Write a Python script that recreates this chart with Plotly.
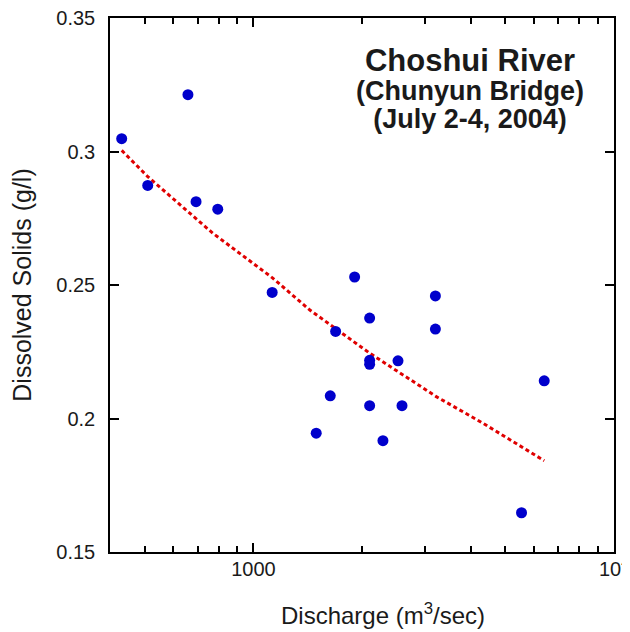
import plotly.graph_objects as go

# Observed samples (discharge m^3/sec, dissolved solids g/l)
discharge = [431, 658, 509, 693, 796, 1127, 1908, 3196, 2100, 1690, 3196,
             2100, 2100, 2517, 6404, 1633, 2100, 2582, 1493, 2286, 5540]
solids = [0.3048, 0.3213, 0.2873, 0.2812, 0.2784, 0.2472, 0.2530, 0.2459,
          0.2376, 0.2326, 0.2335, 0.2218, 0.2203, 0.2216, 0.2141, 0.2085,
          0.2048, 0.2048, 0.1945, 0.1917, 0.1647]

# Fitted trend curve
trend_x = [431, 509, 771, 1131, 1431, 2099, 3214, 4335, 6404]
trend_y = [0.3004, 0.2906, 0.2694, 0.2526, 0.2407, 0.2245, 0.2082, 0.1982, 0.1842]

# Axis ticks
x_tickvals = [1000, 10000]
x_ticktext = ["1000", "10<sup>4</sup>"]
x_minor = [500, 600, 700, 800, 900, 2000, 3000, 4000, 5000, 6000, 7000, 8000, 9000]
y_tickvals = [0.15, 0.2, 0.25, 0.3, 0.35]
y_ticktext = ["0.15", "0.2", "0.25", "0.3", "0.35"]

title_lines = ["Choshui River", "(Chunyun Bridge)", "(July 2-4, 2004)"]

FONT = "Liberation Sans, Arial, Helvetica, sans-serif"
TXT = "#1a1a1a"

fig = go.Figure()
fig.add_trace(go.Scatter(
    x=trend_x, y=trend_y, mode="lines",
    line=dict(color="#e00000", width=3, dash="4px,3px"),
    hoverinfo="skip", showlegend=False,
))
fig.add_trace(go.Scatter(
    x=discharge, y=solids, mode="markers",
    marker=dict(color="#0000cc", size=11),
    showlegend=False,
))

fig.update_xaxes(
    type="log", range=[2.60206, 4], automargin=False,
    tickmode="array", tickvals=x_tickvals, ticktext=x_ticktext,
    ticks="inside", ticklen=9, tickwidth=1.5, tickcolor="black",
    minor=dict(tickmode="array", tickvals=x_minor, ticks="inside",
               ticklen=6, tickwidth=1.5, tickcolor="black", showgrid=False),
    showline=True, linecolor="black", linewidth=1.5, mirror="allticks",
    showgrid=False, zeroline=False,
    tickfont=dict(family=FONT, size=20, color=TXT),
    ticklabelstandoff=-2, ticklabeloverflow="allow",
)
fig.update_yaxes(
    range=[0.15, 0.35], automargin=False,
    tickmode="array", tickvals=y_tickvals, ticktext=y_ticktext,
    ticks="inside", ticklen=9, tickwidth=1.5, tickcolor="black",
    showline=True, linecolor="black", linewidth=1.5, mirror="allticks",
    showgrid=False, zeroline=False,
    tickfont=dict(family=FONT, size=20, color=TXT),
    ticklabelstandoff=9, ticklabeloverflow="allow",
    title=dict(text="Dissolved Solids (g/l)", font=dict(family=FONT, size=25, color=TXT),
               standoff=18),
)

title_text = (
    "<span style='font-size:31px'><b>%s</b></span><br>"
    "<span style='font-size:27px'><b>%s</b></span><br>"
    "<span style='font-size:27px'><b>%s</b></span>"
) % tuple(title_lines)

annotations = [
    dict(text=title_text, x=0.714, y=0.8674, font=dict(size=22)),
    dict(text="Discharge (m<sup>3</sup>/sec)", x=0.5417, y=-0.1162, font=dict(size=24)),
]
for a in annotations:
    a.update(xref="paper", yref="paper", showarrow=False, xanchor="center", yanchor="middle")
    a["font"].update(family=FONT, color=TXT)

fig.update_layout(
    width=622, height=624,
    margin=dict(l=102, r=16, t=10, b=80),
    paper_bgcolor="white", plot_bgcolor="white",
    annotations=annotations,
    font=dict(family=FONT, color=TXT),
)

fig.write_html("out.html")
